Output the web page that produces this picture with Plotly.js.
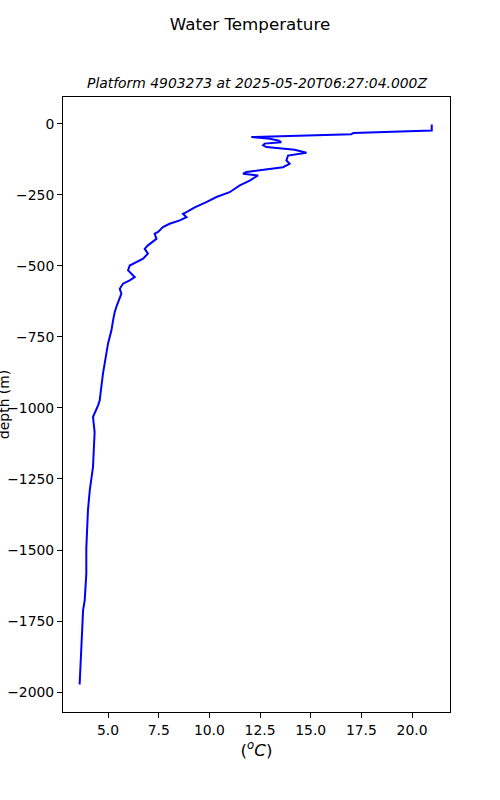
<!DOCTYPE html>
<html>
<head>
<meta charset="utf-8">
<script src="https://cdn.plot.ly/plotly-3.0.1.min.js"></script>
<style>html,body{margin:0;padding:0;background:#fff;}#chart{width:500px;height:800px;}</style>
</head>
<body>
<div id="chart"></div>
<script>
// Temperature (°C)
const temperature = [20.97, 20.97, 17.1, 17.0, 12.07, 12.98, 13.39, 13.55, 12.73, 12.65, 12.81, 13.55, 14.21, 14.79,
  13.88, 13.80, 13.96, 13.63, 11.83, 11.66, 12.40, 11.99, 11.50, 11.00, 10.51, 10.35, 9.85, 9.28, 8.87, 8.70, 8.87,
  8.54, 8.04, 7.71, 7.47, 7.30, 7.39, 7.14, 6.97, 6.81, 6.97, 6.73, 6.23, 6.07, 5.99, 6.15, 6.32, 6.07, 5.74, 5.58,
  5.66, 5.41, 5.33, 5.25, 5.17, 5.00, 4.92, 4.84, 4.75, 4.67, 4.59, 4.51, 4.26, 4.34, 4.26, 4.10, 4.01, 3.93, 3.93,
  3.85, 3.77, 3.74, 3.69, 3.60];
// Depth (m), negative downward
const depth = [-3, -24, -33, -37, -47, -53, -59, -65, -70, -76, -82, -88, -92, -102,
  -112, -129, -141, -153, -170, -176, -182, -200, -217, -241, -252, -258, -276, -294, -311, -317, -329,
  -340, -352, -364, -381, -387, -405, -417, -428, -440, -457, -475, -493, -499, -516, -528, -540, -551, -563, -581,
  -598, -645, -663, -692, -727, -774, -804, -833, -880, -927, -974, -991, -1032, -1085, -1208, -1290, -1361, -1495, -1583,
  -1677, -1712, -1759, -1853, -1973];

const chartTitle = 'Water Temperature';
const subTitle = 'Platform 4903273 at 2025-05-20T06:27:04.000Z';
const xLabel = '(<i><sup>o</sup>C</i>)';
const yLabel = 'depth (m)';

const font = 'DejaVu Sans, sans-serif';

Plotly.newPlot('chart', [{
  x: temperature,
  y: depth,
  type: 'scatter',
  mode: 'lines',
  line: {color: '#0000ff', width: 2},
  hoverinfo: 'skip'
}], {
  width: 500,
  height: 800,
  margin: {l: 63, r: 50, t: 97, b: 88, pad: 0},
  paper_bgcolor: '#fff',
  plot_bgcolor: '#fff',
  showlegend: false,
  font: {family: font, color: '#000', size: 13.9},
  title: {
    text: chartTitle,
    font: {family: font, size: 16.7, color: '#000'},
    xref: 'container', x: 0.5, xanchor: 'center',
    yref: 'container', y: 1 - 24/800, yanchor: 'middle'
  },
  annotations: [{
    text: '<i>' + subTitle + '</i>',
    xref: 'paper', x: 0.5, xanchor: 'center',
    yref: 'paper', y: 1, yanchor: 'bottom', yshift: 4,
    showarrow: false,
    font: {family: font, size: 13.9, color: '#000'}
  }, {
    text: yLabel,
    textangle: -90,
    xref: 'paper', x: (3.5 - 63) / 387, xanchor: 'center',
    yref: 'paper', y: 0.5, yanchor: 'middle',
    showarrow: false,
    font: {family: font, size: 13.9, color: '#000'}
  }],
  xaxis: {
    range: [2.78, 21.87],
    tick0: 0, dtick: 2.5, tickformat: '.1f',
    ticks: 'outside', ticklen: 5, tickwidth: 1, tickcolor: '#000',
    showline: true, linecolor: '#000', linewidth: 1, mirror: true,
    showgrid: false, zeroline: false,
    tickfont: {family: font, size: 13.9, color: '#000'},
    title: {text: xLabel, font: {family: font, size: 16.7, color: '#000'}, standoff: 7}
  },
  yaxis: {
    range: [-2070, 94],
    tick0: 0, dtick: 250,
    ticks: 'outside', ticklen: 5, tickwidth: 1, tickcolor: '#000',
    showline: true, linecolor: '#000', linewidth: 1, mirror: true,
    showgrid: false, zeroline: false,
    tickfont: {family: font, size: 13.9, color: '#000'}
  }
}, {displayModeBar: false, staticPlot: true});
</script>
</body>
</html>
